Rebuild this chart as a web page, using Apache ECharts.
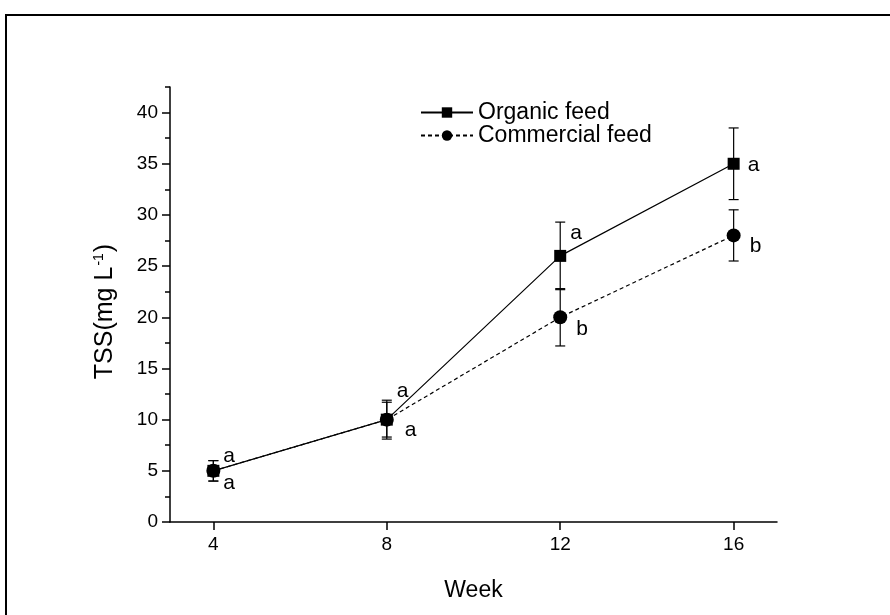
<!DOCTYPE html>
<html>
<head>
<meta charset="utf-8">
<script src="https://cdn.jsdelivr.net/npm/echarts@6/dist/echarts.min.js"></script>
<style>html,body{margin:0;padding:0;background:#fff;}#c{width:890px;height:615px;}</style>
</head>
<body>
<div id="c"></div>
<script>
var weeks = [4, 8, 12, 16];
var organic = [5, 10, 26, 35];
var organicErr = [1, 1.9, 3.3, 3.5];
var commercial = [5, 10, 20, 28];
var commercialErr = [1, 1.7, 2.8, 2.5];
var organicLetters = ['a', 'a', 'a', 'a'];
var commercialLetters = ['a', 'a', 'b', 'b'];
var xTicks = [4, 8, 12, 16];
var yTicks = [0, 5, 10, 15, 20, 25, 30, 35, 40];
var yMinorTicks = [2.5, 7.5, 12.5, 17.5, 22.5, 27.5, 32.5, 37.5, 42.5];

// label pixel offsets (styling)
var organicLetterOffsets = [[10, -15], [10, -28], [10, -23], [14, 1]];
var commercialLetterOffsets = [[10, 12], [18, 11], [16, 12], [16, 11]];

var FONT = '"Liberation Sans", Arial, sans-serif';

function pairs(xs, ys) { return xs.map(function (x, i) { return [x, ys[i]]; }); }
function errData(xs, ys, es) { return xs.map(function (x, i) { return [x, ys[i] - es[i], ys[i] + es[i]]; }); }
function letterData(xs, ys, ls) { return xs.map(function (x, i) { return [x, ys[i], ls[i]]; }); }

function errRender(params, api) {
  var x = api.value(0);
  var lo = api.coord([x, api.value(1)]);
  var hi = api.coord([x, api.value(2)]);
  var w = 5;
  var st = { stroke: '#000', lineWidth: 1.2 };
  return {
    type: 'group',
    children: [
      { type: 'line', shape: { x1: lo[0], y1: lo[1], x2: hi[0], y2: hi[1] }, style: st },
      { type: 'line', shape: { x1: lo[0] - w, y1: lo[1], x2: lo[0] + w, y2: lo[1] }, style: st },
      { type: 'line', shape: { x1: hi[0] - w, y1: hi[1], x2: hi[0] + w, y2: hi[1] }, style: st }
    ]
  };
}

function letterRender(offsets) {
  return function (params, api) {
    var p = api.coord([api.value(0), api.value(1)]);
    var off = offsets[params.dataIndex];
    return {
      type: 'text',
      x: p[0] + off[0],
      y: p[1] + off[1],
      style: {
        text: String(api.value(2)),
        font: '21px ' + FONT,
        fill: '#000',
        textAlign: 'left',
        textVerticalAlign: 'middle'
      }
    };
  };
}

var chart = echarts.init(document.getElementById('c'));
chart.setOption({
  animation: false,
  backgroundColor: '#fff',
  grid: { left: 170, right: 113, top: 87, bottom: 93 },
  legend: {
    orient: 'vertical',
    left: 415,
    top: 96,
    itemWidth: 52,
    itemHeight: 13,
    itemGap: 0,
    data: ['Organic feed', 'Commercial feed'],
    textStyle: { fontFamily: FONT, fontSize: 23, color: '#000', lineHeight: 23 }
  },
  graphic: [{
    type: 'rect',
    shape: { x: 6, y: 15, width: 1000, height: 1000 },
    style: { fill: 'none', stroke: '#000', lineWidth: 2 },
    silent: true,
    z: -10
  }],
  xAxis: {
    type: 'value',
    min: 3,
    max: 17,
    name: 'Week',
    nameLocation: 'middle',
    nameGap: 57,
    nameTextStyle: { fontFamily: FONT, fontSize: 23, color: '#000' },
    axisLine: { show: true, lineStyle: { color: '#000', width: 1.5 } },
    axisTick: { show: true, length: 8, lineStyle: { color: '#000', width: 1.5 }, customValues: xTicks },
    axisLabel: { fontFamily: FONT, fontSize: 19, color: '#000', margin: 13, customValues: xTicks },
    splitLine: { show: false }
  },
  yAxis: [{
    type: 'value',
    min: 0,
    max: 42.5,
    name: '{n|TSS(mg L}{s|-1}{n|)}',
    nameLocation: 'middle',
    nameGap: 52,
    nameRotate: 90,
    nameTextStyle: {
      padding: [0, 14, 0, 0],
      rich: {
        n: { fontFamily: FONT, fontSize: 25, color: '#000', verticalAlign: 'bottom', lineHeight: 26 },
        s: { fontFamily: FONT, fontSize: 14, color: '#000', verticalAlign: 'top', lineHeight: 26, padding: [0, 1, 12, 1] }
      }
    },
    axisLine: { show: true, lineStyle: { color: '#000', width: 1.5 } },
    axisTick: { show: true, length: 8, lineStyle: { color: '#000', width: 1.5 }, customValues: yTicks },
    axisLabel: { fontFamily: FONT, fontSize: 19, color: '#000', margin: 12, customValues: yTicks },
    splitLine: { show: false }
  }, {
    type: 'value',
    min: 0,
    max: 42.5,
    position: 'left',
    axisLine: { show: false },
    axisTick: { show: true, length: 5, lineStyle: { color: '#000', width: 1.5 }, customValues: yMinorTicks },
    axisLabel: { show: false },
    splitLine: { show: false }
  }],
  series: [
    {
      type: 'custom',
      renderItem: errRender,
      data: errData(weeks, organic, organicErr),
      encode: { x: 0, y: [1, 2] },
      silent: true,
      z: 1
    },
    {
      type: 'custom',
      renderItem: errRender,
      data: errData(weeks, commercial, commercialErr),
      encode: { x: 0, y: [1, 2] },
      silent: true,
      z: 1
    },
    {
      name: 'Organic feed',
      type: 'line',
      data: pairs(weeks, organic),
      symbol: 'rect',
      symbolSize: 12,
      showAllSymbol: true,
      lineStyle: { color: '#000', width: 1.2, type: 'solid' },
      itemStyle: { color: '#000', borderWidth: 0 },
      z: 2
    },
    {
      name: 'Commercial feed',
      type: 'line',
      data: pairs(weeks, commercial),
      symbol: 'circle',
      symbolSize: 14,
      showAllSymbol: true,
      lineStyle: { color: '#000', width: 1.2, type: [4, 3] },
      itemStyle: { color: '#000', borderWidth: 0 },
      z: 3
    },
    {
      type: 'custom',
      renderItem: letterRender(organicLetterOffsets),
      data: letterData(weeks, organic, organicLetters),
      encode: { x: 0, y: 1 },
      silent: true,
      z: 4
    },
    {
      type: 'custom',
      renderItem: letterRender(commercialLetterOffsets),
      data: letterData(weeks, commercial, commercialLetters),
      encode: { x: 0, y: 1 },
      silent: true,
      z: 4
    }
  ]
});
</script>
</body>
</html>
